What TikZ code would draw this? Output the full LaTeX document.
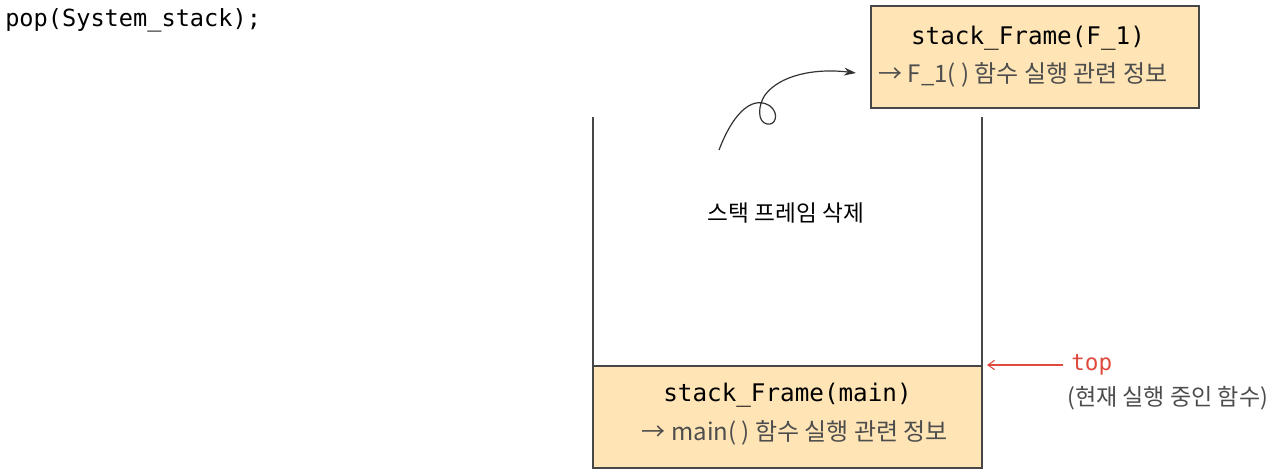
\documentclass[tikz,border=0pt]{standalone}
\usepackage{fontspec}
\setmainfont{Noto Sans CJK KR}
\newfontfamily\krfont{Noto Sans CJK KR}
\newfontfamily\codefont{DejaVu Sans Mono}
\usetikzlibrary{arrows.meta}
\definecolor{framefill}{HTML}{FFE5B6}
\definecolor{framedraw}{HTML}{474747}
\definecolor{topred}{HTML}{E04A3C}
\definecolor{notegray}{HTML}{4D4D4D}
\tikzset{
	stackframe/.style={draw=framedraw, line width=1.5pt, fill=framefill, rectangle, inner sep=0pt},
	stackwall/.style={draw=framedraw, line width=1.5pt},
	codetext/.style={font=\codefont\fontsize{18.2}{21}\selectfont, inner sep=0pt},
	kortext/.style={font=\krfont\fontsize{18}{21}\selectfont, text=notegray, inner sep=0pt},
}

\begin{document}
\begin{tikzpicture}[x=0.75pt,y=-0.75pt]
	\useasboundingbox (0,0) rectangle (1270,472);
	\node [codetext, font=\codefont\fontsize{17.7}{21}\selectfont, anchor=west] (popcall) at (5,20) {pop(System\_stack);};
		\begin{scope}
			\draw [stackwall] (593,117) -- (593,468);
			\draw [stackwall] (982,117) -- (982,468);
			\node [stackframe, minimum width=291.75pt, minimum height=76.5pt] (mainframe) at (787.5,417) {};
			\node [codetext] (mainname) at (787.5,395) {stack\_Frame(main)};
			\node [kortext] (maininfo) at (795,433) {→ main( ) 함수 실행 관련 정보};
		\end{scope}
	\node [kortext, text=black, font=\krfont\fontsize{17}{20}\selectfont] (deltext) at (786,213) {스택 프레임 삭제};
		\begin{scope}
			\node [stackframe, minimum width=246pt, minimum height=76.5pt] (f1frame) at (1035,57) {};
			\node [codetext] (f1name) at (1028,38) {stack\_Frame(F\_1)};
			\node [kortext] (f1info) at (1023,75) {→ F\_1( ) 함수 실행 관련 정보};
		\end{scope}
	\coordinate (curlstart) at (719,150);
	\coordinate (curlend) at (856,73);
	\draw [black!80, line width=0.9pt, -{Stealth[length=9pt,width=6pt]}] (curlstart) .. controls (735,108) and (755,96) .. (770,106) .. controls (780,114) and (775,126) .. (767,124) .. controls (757,122) and (758,105) .. (765,95) .. controls (780,75) and (815,68) .. (curlend);
	\coordinate (toptail) at (1063,365);
	\draw [topred, line width=0.8pt, -{Straight Barb[length=5pt,width=7pt]}] (toptail) -- ([xshift=3pt]mainframe.north east);
	\node [codetext, font=\codefont\fontsize{17}{20}\selectfont, text=topred, anchor=west] (toplabel) at (1071,365) {top};
	\node [kortext, font=\krfont\fontsize{17.3}{21}\selectfont, anchor=west] (topnote) at (1067,398) {(현재 실행 중인 함수)};
\end{tikzpicture}
\end{document}
